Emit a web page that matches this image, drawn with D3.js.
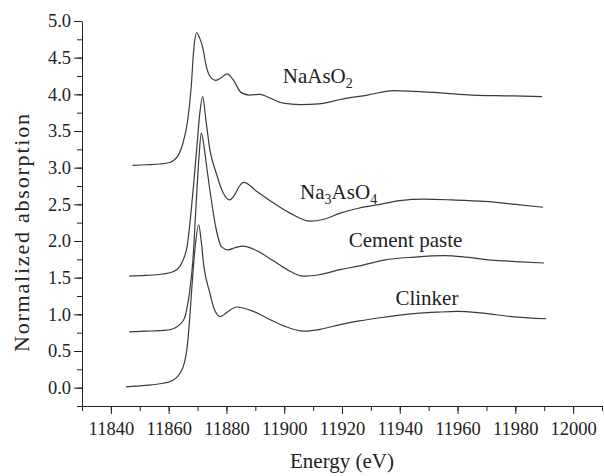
<!DOCTYPE html>
<html>
  <head>
    <meta charset="utf-8">
    <script src="https://d3js.org/d3.v7.min.js"></script>
    <style type="text/css">
      body { margin: 0; background: #fff; }
      svg text { font-family: "Liberation Serif", "Times New Roman", serif; fill: #222; }
      .axis path, .axis line { stroke: #222; stroke-width: 1; }
      .axis text { font-size: 18.5px; }
      .series { fill: none; stroke: #3a3a3a; stroke-width: 1.2; }
    </style>
  </head>
  <body>
    <div id="chart"></div>
    <script>
      // spectra (energy in eV, normalized absorption, curves already offset)
      var naAsO2E = [11847.5, 11852, 11857, 11860.3, 11863, 11864.9, 11866.6, 11867.8, 11868.7, 11869.7, 11870.6, 11871.9, 11872.8, 11874.8, 11876.3, 11878.3, 11880.2, 11882.3, 11885.2, 11888.1, 11891.6, 11895, 11899.6, 11905.5, 11912, 11919.4, 11928.8, 11937.8, 11944.8, 11954.2, 11965, 11977, 11989.2]
      var naAsO2V = [3.03, 3.04, 3.05, 3.07, 3.15, 3.33, 3.65, 4.10, 4.62, 4.84, 4.78, 4.62, 4.42, 4.22, 4.19, 4.23, 4.28, 4.20, 4.02, 3.99, 4.00, 3.95, 3.88, 3.86, 3.87, 3.93, 3.99, 4.05, 4.04, 4.02, 3.99, 3.98, 3.97]

      var na3AsO4E = [11846.4, 11852, 11858, 11861.5, 11863.8, 11865.5, 11866.4, 11867.5, 11868.7, 11869.8, 11870.8, 11871.8, 11872.8, 11874.2, 11876.5, 11878.8, 11881.1, 11883, 11884.5, 11886, 11890.4, 11896.2, 11902, 11909, 11914, 11919.4, 11926, 11933.3, 11940, 11948.4, 11958, 11969.3, 11980, 11989.6]
      var na3AsO4V = [1.52, 1.53, 1.55, 1.58, 1.65, 1.79, 1.93, 2.30, 2.80, 3.30, 3.75, 3.97, 3.68, 3.26, 2.92, 2.66, 2.56, 2.64, 2.75, 2.80, 2.68, 2.52, 2.38, 2.27, 2.30, 2.38, 2.45, 2.50, 2.55, 2.57, 2.56, 2.54, 2.50, 2.46]

      var cementE = [11846.4, 11852, 11858, 11860.3, 11863.8, 11865.5, 11866.3, 11867.2, 11868.4, 11869.5, 11870.5, 11871.3, 11872.2, 11873, 11874.8, 11876.5, 11878.3, 11880.6, 11883, 11885.8, 11890.4, 11896.2, 11901, 11906.7, 11912, 11919.4, 11926, 11934.5, 11945, 11955.3, 11963, 11971.6, 11980, 11989.9]
      var cementV = [0.76, 0.77, 0.78, 0.79, 0.86, 0.95, 1.08, 1.29, 1.74, 2.50, 3.15, 3.47, 3.30, 3.06, 2.55, 2.15, 1.92, 1.88, 1.91, 1.93, 1.87, 1.73, 1.61, 1.52, 1.54, 1.61, 1.66, 1.74, 1.78, 1.80, 1.78, 1.74, 1.72, 1.70]

      var clinkerE = [11845.2, 11852, 11858, 11860.3, 11862.5, 11864, 11865.3, 11866.3, 11867.2, 11868, 11869, 11870.4, 11871.2, 11872.2, 11874.2, 11875.9, 11877.9, 11880.6, 11883.5, 11889.3, 11895, 11900, 11906.7, 11913, 11919.4, 11926, 11934.5, 11945, 11953, 11960, 11968, 11978.5, 11990.7]
      var clinkerV = [0.01, 0.03, 0.06, 0.08, 0.13, 0.20, 0.32, 0.52, 0.90, 1.35, 1.85, 2.22, 2.02, 1.65, 1.30, 1.06, 0.97, 1.04, 1.10, 1.04, 0.93, 0.84, 0.77, 0.80, 0.86, 0.91, 0.96, 1.01, 1.03, 1.04, 1.02, 0.97, 0.94]

      // labels: name, subscripts, where the label sits (energy, value)
      var seriesNames = ["NaAsO2", "Na3AsO4", "Cement paste", "Clinker"]
      var labelParts = [
        [["NaAsO", false], ["2", true]],
        [["Na", false], ["3", true], ["AsO", false], ["4", true]],
        [["Cement paste", false]],
        [["Clinker", false]]
      ]
      var labelE = [11899.5, 11905.5, 11922.3, 11938.5]
      var labelV = [4.16, 2.57, 1.92, 1.13]

      var xMajor = d3.range(11840, 12001, 20)
      var xMinor = d3.range(11830, 12011, 10)
      var yMajor = d3.range(0, 5.01, 0.5)
      var yMinor = d3.range(-0.25, 5.01, 0.25)

      var width = 604
      var height = 476
      var margin = {top: 21, right: 2, bottom: 70, left: 82}

      var svg = d3.select("#chart")
        .append("svg")
          .attr("width", width)
          .attr("height", height)

      var x = d3.scaleLinear()
        .domain([11830, 12010])
        .range([margin.left, width - margin.right])

      var y = d3.scaleLinear()
        .domain([-0.25, 5.0])
        .range([height - margin.bottom, margin.top])

      // x axis: minor then major ticks
      svg.append("g")
        .attr("class", "axis")
        .attr("transform", "translate(0," + (height - margin.bottom) + ")")
        .call(d3.axisBottom(x).tickValues(xMinor).tickSize(5).tickSizeOuter(0).tickFormat(""))

      svg.append("g")
        .attr("class", "axis")
        .attr("transform", "translate(0," + (height - margin.bottom) + ")")
        .call(d3.axisBottom(x).tickValues(xMajor).tickSize(8).tickSizeOuter(0).tickPadding(8).tickFormat(d3.format("d")))
        .select(".domain").remove()

      // y axis
      svg.append("g")
        .attr("class", "axis")
        .attr("transform", "translate(" + margin.left + ",0)")
        .call(d3.axisLeft(y).tickValues(yMinor).tickSize(5).tickSizeOuter(0).tickFormat(""))

      svg.append("g")
        .attr("class", "axis")
        .attr("transform", "translate(" + margin.left + ",0)")
        .call(d3.axisLeft(y).tickValues(yMajor).tickSize(8).tickSizeOuter(0).tickPadding(3).tickFormat(d3.format(".1f")))
        .select(".domain").remove()

      // axis titles
      svg.append("text")
        .attr("x", 342)
        .attr("y", 468)
        .attr("text-anchor", "middle")
        .style("font-size", "21px")
        .text("Energy (eV)")

      svg.append("text")
        .attr("transform", "translate(29,233) rotate(-90)")
        .attr("text-anchor", "middle")
        .style("font-size", "22px")
        .attr("textLength", 238)
        .attr("lengthAdjust", "spacing")
        .text("Normalized absorption")

      // the spectra
      var line = d3.line()
        .x(function(d) { return x(d[0]) })
        .y(function(d) { return y(d[1]) })
        .curve(d3.curveMonotoneX)

      var allE = [naAsO2E, na3AsO4E, cementE, clinkerE]
      var allV = [naAsO2V, na3AsO4V, cementV, clinkerV]

      allE.forEach(function(es, i) {
        svg.append("path")
          .attr("class", "series")
          .attr("d", line(d3.zip(es, allV[i])))
      })

      // curve labels
      seriesNames.forEach(function(name, i) {
        var t = svg.append("text")
          .attr("x", x(labelE[i]))
          .attr("y", y(labelV[i]))
          .style("font-size", "21px")
        labelParts[i].forEach(function(p) {
          var s = t.append("tspan").text(p[0])
          if (p[1]) s.attr("dy", 5).style("font-size", "14px")
          else if (t.selectAll("tspan").size() > 1) s.attr("dy", -5)
        })
      })
    </script>
  </body>
</html>
